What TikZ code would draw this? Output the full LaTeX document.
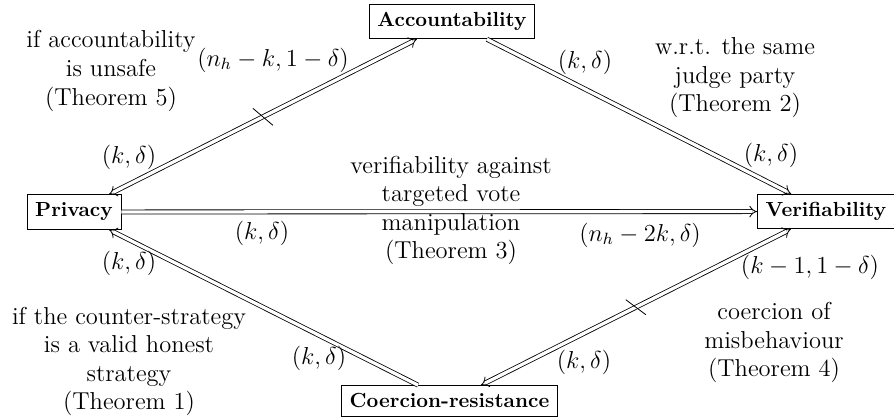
\documentclass[tikz,border=0pt]{standalone}
\usetikzlibrary{arrows.meta}
\begin{document}
\begin{tikzpicture}[x=0.49pt,y=-0.49pt,
  prop/.style={draw,inner sep=4pt,font=\bfseries},
  lbl/.style={font=\large,inner sep=0pt},
  note/.style={font=\large,align=center,inner sep=0pt},
  dbl/.style={double,double distance=1.6pt,line width=0.4pt},
  tip/.style={Implies}]
\useasboundingbox (0,0) rectangle (894,420);
% properties
\node[prop] (acc) at (452,21.5) {Accountability};
\node[prop] (priv) at (74,212) {Privacy};
\node[prop] (ver) at (826,211.5) {Verifiability};
\node[prop] (coe) at (449.5,401) {Coercion-resistance};
% connectors
\draw[dbl,-{Implies}] (priv) -- (ver);
\draw[dbl,-{Implies}] (acc) -- (ver);
\draw[dbl,{Implies}-{Implies}] (priv) -- coordinate[midway] (t1) (acc);
\draw[dbl,-{Implies}] (coe) -- (priv);
\draw[dbl,{Implies}-{Implies}] (coe) -- coordinate[midway] (t2) (ver);
% negation ticks
\draw (t1) +(-10,-8.5) -- +(10,8.5);
\draw (t2) +(-10,-7.5) -- +(10,7.5);
% edge labels
\node[lbl] (l1) at (273,60) {$(n_h-k,1-\delta)$};
\node[lbl] (l2) at (585,62) {$(k,\delta)$};
\node[lbl] (l3) at (129,157) {$(k,\delta)$};
\node[lbl] (l4) at (771,155) {$(k,\delta)$};
\node[lbl] (l5) at (262,233) {$(k,\delta)$};
\node[lbl] (l6) at (640,235) {$(n_h-2k,\delta)$};
\node[lbl] (l7) at (129,263) {$(k,\delta)$};
\node[lbl] (l8) at (319,358) {$(k,\delta)$};
\node[lbl] (l9) at (584,362) {$(k,\delta)$};
\node[lbl] (l10) at (810,267) {$(k-1,1-\delta)$};
% notes
\node[note] (n5) at (111,71) {if accountability\\is unsafe\\(Theorem 5)};
\node[note] (n2) at (735,78) {w.r.t. the same\\judge party\\(Theorem 2)};
\node[note] (n3) at (451,210.5) {verifiability against\\targeted vote\\manipulation\\(Theorem 3)};
\node[note] (n1) at (129,361.5) {if the counter-strategy\\is a valid honest\\strategy\\(Theorem 1)};
\node[note] (n4) at (774,342.5) {coercion of\\misbehaviour\\(Theorem 4)};
\end{tikzpicture}
\end{document}
